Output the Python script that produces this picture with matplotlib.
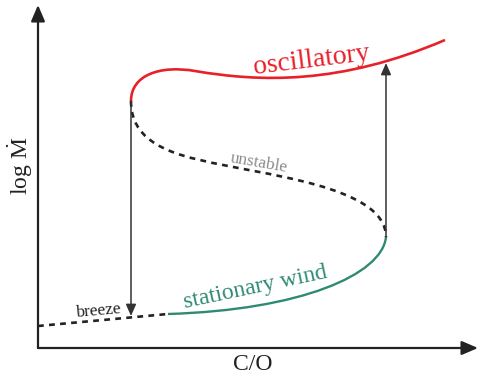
import matplotlib.pyplot as plt
from matplotlib.path import Path
from matplotlib.patches import PathPatch

plt.rcParams['font.family'] = ['Liberation Serif', 'DejaVu Serif']
plt.rcParams['mathtext.fontset'] = 'custom'
plt.rcParams['mathtext.rm'] = 'Liberation Serif'

# schematic branches in arbitrary units (C/O, log Mdot), cubic Bezier control points
oscillatory_pts = [(0.93, 2.47), (0.93, 2.73), (1.22, 2.83), (1.57, 2.77),
                   (2.22, 2.66), (3.02, 2.63), (4.07, 3.08)]
unstable_pts = [(0.93, 2.47), (0.93, 2.18), (1.12, 1.99), (1.62, 1.88),
                (2.22, 1.73), (3.48, 1.63), (3.48, 1.11)]
stationary_pts = [(1.30, 0.34), (2.62, 0.38), (3.44, 0.73), (3.48, 1.11)]
breeze_x = [0.0, 1.30]
breeze_y = [0.22, 0.34]

# jumps between branches: (x, from y, to y)
jump_down = (0.93, 2.47, 0.32)
jump_up = (3.48, 1.11, 2.85)

red = '#e8202a'
green = '#2f8a74'
ink = '#222222'


def bezier(pts):
    codes = [Path.MOVETO] + [Path.CURVE4] * (len(pts) - 1)
    return Path(pts, codes)


fig = plt.figure(figsize=(4.79, 3.78), dpi=100)
ax = fig.add_axes([0, 0, 1, 1])
ax.set_xlim(-0.38, 4.41)
ax.set_ylim(-0.30, 3.48)
ax.axis('off')

# axes with arrow heads
axis_style = dict(arrowstyle='-|>,head_length=0.7,head_width=0.3', mutation_scale=14,
                  lw=1.6, color=ink, shrinkA=0, shrinkB=0)
ax.annotate('', xy=(4.40, 0), xytext=(0, 0), arrowprops=axis_style)
ax.annotate('', xy=(0, 3.43), xytext=(0, 0), arrowprops=axis_style)

# jump arrows
jump_style = dict(arrowstyle='-|>,head_length=0.5,head_width=0.22', mutation_scale=14,
                  lw=1.1, color='#333333', shrinkA=0, shrinkB=0)
for x, y0, y1 in (jump_down, jump_up):
    ax.annotate('', xy=(x, y1), xytext=(x, y0), arrowprops=jump_style)

# branches
ax.add_patch(PathPatch(bezier(oscillatory_pts), fill=False, ec=red, lw=1.9))
ax.add_patch(PathPatch(bezier(unstable_pts), fill=False, ec=ink, lw=1.9,
                       ls=(0, (2.2, 2.0))))
ax.add_patch(PathPatch(bezier(stationary_pts), fill=False, ec=green, lw=1.7))
ax.plot(breeze_x, breeze_y, color=ink, lw=1.9, ls=(0, (2.2, 2.0)), solid_capstyle='butt')

# labels
ax.text(2.74, 2.88, 'oscillatory', color=red, fontsize=20, rotation=7,
        ha='center', va='center')
ax.text(2.17, 0.60, 'stationary wind', color=green, fontsize=17, rotation=12,
        ha='center', va='center')
ax.text(2.21, 1.85, 'unstable', color='#8a8a8a', fontsize=12.5, rotation=-10,
        ha='center', va='center')
ax.text(0.60, 0.37, 'breeze', color=ink, fontsize=12.5, rotation=5,
        ha='center', va='center')
ax.text(2.15, -0.17, 'C/O', color=ink, fontsize=17, ha='center', va='center')
ax.text(-0.18, 1.82, r'log $\dot{\mathrm{M}}$', color=ink, fontsize=17, rotation=90,
        ha='center', va='center')

fig.savefig('out.png', dpi=100)
